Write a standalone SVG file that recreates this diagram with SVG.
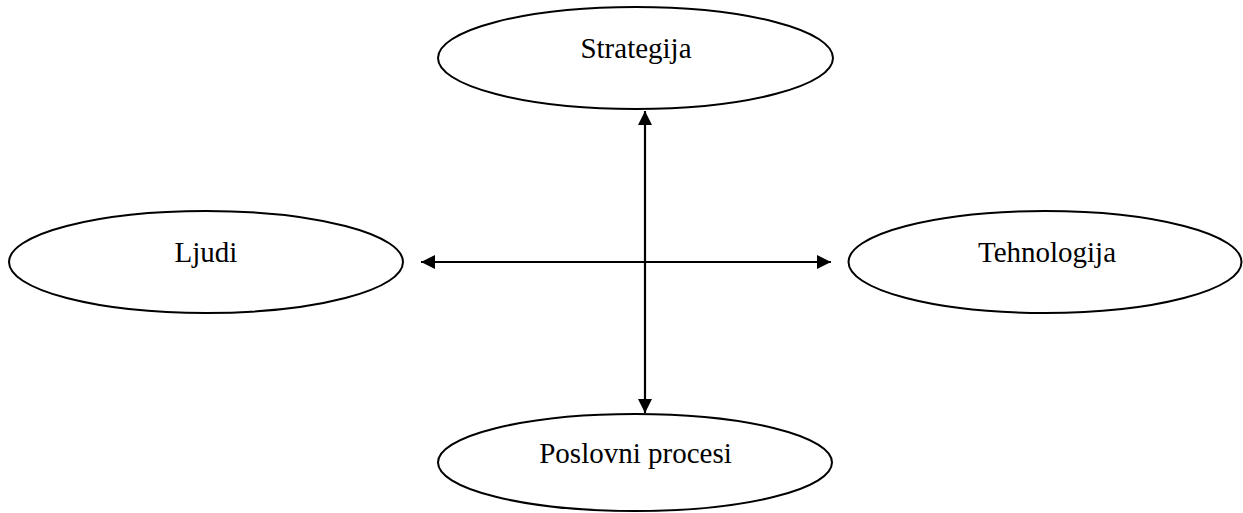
<svg xmlns="http://www.w3.org/2000/svg" width="1243" height="513" viewBox="0 0 1243 513">
  <style>
    .node ellipse { fill: #ffffff; stroke: #000000; stroke-width: 2; }
    .node text { font-family: "Liberation Serif", "Times New Roman", serif; font-size: 29px; fill: #000000; text-anchor: middle; }
    .link { stroke: #000000; stroke-width: 2.2; fill: none; }
  </style>
  <defs>
    <marker id="arrow" viewBox="0 0 10 10" refX="10" refY="5" markerWidth="15" markerHeight="14" markerUnits="userSpaceOnUse" orient="auto-start-reverse">
      <path d="M0,0 L10,5 L0,10 Z" fill="#000000"/>
    </marker>
  </defs>

  <rect width="1243" height="513" fill="#ffffff"/>

  <g id="connectors">
    <line class="link" x1="645" y1="111" x2="645" y2="413" marker-start="url(#arrow)" marker-end="url(#arrow)"/>
    <line class="link" x1="421" y1="262" x2="831" y2="262" marker-start="url(#arrow)" marker-end="url(#arrow)"/>
  </g>

  <g id="strategija" class="node">
    <ellipse cx="635.5" cy="58" rx="197.5" ry="51"/>
    <text x="636" y="58">Strategija</text>
  </g>

  <g id="ljudi" class="node">
    <ellipse cx="206" cy="262" rx="197" ry="51"/>
    <text x="206" y="262">Ljudi</text>
  </g>

  <g id="tehnologija" class="node">
    <ellipse cx="1045" cy="262" rx="196.5" ry="51"/>
    <text x="1047" y="262">Tehnologija</text>
  </g>

  <g id="poslovni-procesi" class="node">
    <ellipse cx="635" cy="462.5" rx="197" ry="48.5"/>
    <text x="635.5" y="463">Poslovni procesi</text>
  </g>
</svg>
